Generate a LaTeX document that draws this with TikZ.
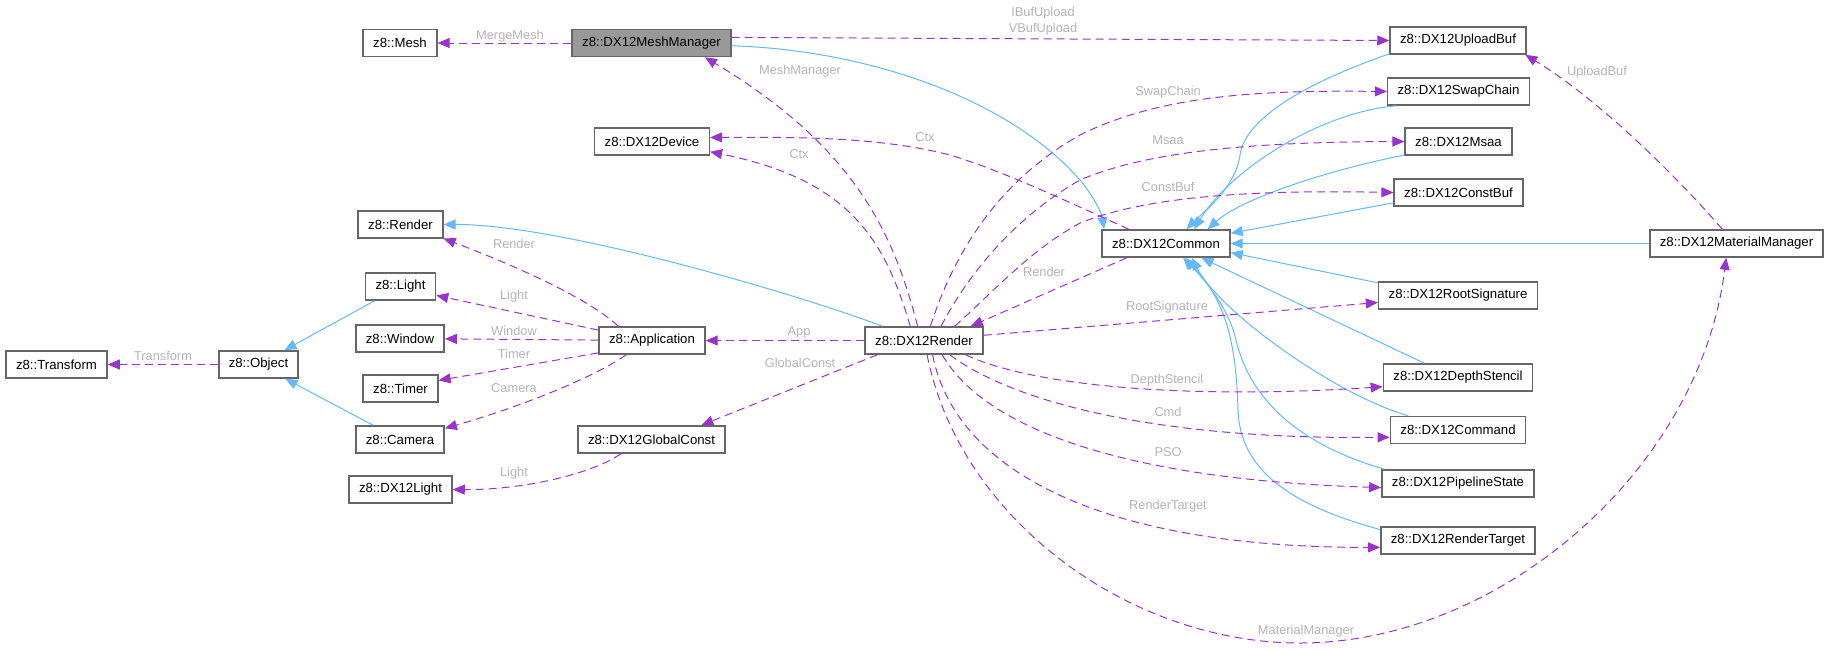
\documentclass[tikz,border=0pt]{standalone}
\usepackage{fontspec}
\setmainfont{Liberation Sans}
\usetikzlibrary{arrows.meta}
\definecolor{dxBorder}{HTML}{666666}
\definecolor{dxFocus}{HTML}{999999}
\definecolor{dxUse}{HTML}{9A32CD}
\definecolor{dxInherit}{HTML}{63B8FF}
\definecolor{dxLabel}{HTML}{B4B4B4}

\begin{document}
\begin{tikzpicture}[x=0.5pt, y=-0.5pt,
  cls/.style={draw=dxBorder, fill=white, line width=0.8pt, align=center,
              minimum height=13.5pt, inner xsep=5pt, inner ysep=0pt,
              font=\fontsize{6.6}{8}\selectfont, text=black},
  focus/.style={cls, fill=dxFocus},
  inh/.style={-{Triangle[length=6pt, width=5pt]}, draw=dxInherit, line width=0.5pt},
  use/.style={-{Triangle[length=6pt, width=5pt]}, draw=dxUse, line width=0.5pt,
              dash pattern=on 4pt off 2.5pt},
  lbl/.style={font=\fontsize{6.4}{8}\selectfont, text=dxLabel, inner sep=0pt, align=center},
]
\useasboundingbox (0,0) rectangle (1829,649);

% --- left column ---
\node[cls] (transform) at (56.5,364.5)  {z8::Transform};
\node[cls] (object)    at (258.5,364.5) {z8::Object};
\node[cls] (mesh)      at (400,43)      {z8::Mesh};
\node[cls] (render)    at (400.5,224.5) {z8::Render};
\node[cls] (light)     at (400.5,286.5) {z8::Light};
\node[cls] (window)    at (400,338.5)   {z8::Window};
\node[cls] (timer)     at (400.5,388.5) {z8::Timer};
\node[cls] (camera)    at (400,439.5)   {z8::Camera};
\node[cls] (dxlight)   at (400.5,489.5) {z8::DX12Light};

% --- middle ---
\node[focus] (meshmgr) at (651.5,43)    {z8::DX12MeshManager};
\node[cls] (device)    at (652,141.5)   {z8::DX12Device};
\node[cls] (app)       at (652,340.5)   {z8::Application};
\node[cls] (gconst)    at (651.5,439.5) {z8::DX12GlobalConst};
\node[cls] (dxrender)  at (924,340.5)   {z8::DX12Render};
\node[cls] (common)    at (1166,243.5)  {z8::DX12Common};

% --- right column ---
\node[cls] (upload)    at (1458,40.5)   {z8::DX12UploadBuf};
\node[cls] (swap)      at (1458.5,91.5) {z8::DX12SwapChain};
\node[cls] (msaa)      at (1458.5,141.5) {z8::DX12Msaa};
\node[cls] (constbuf)  at (1458.5,192.5) {z8::DX12ConstBuf};
\node[cls] (rootsig)   at (1458,295.5)  {z8::DX12RootSignature};
\node[cls] (depth)     at (1458,377.5)  {z8::DX12DepthStencil};
\node[cls] (command)   at (1458,430)    {z8::DX12Command};
\node[cls] (pso)       at (1458,483.5)  {z8::DX12PipelineState};
\node[cls] (target)    at (1458,540.5)  {z8::DX12RenderTarget};
\node[cls] (matmgr)    at (1736.5,243.5) {z8::DX12MaterialManager};

% --- inheritance (solid, towards the base class) ---
\draw[inh] (light) -- (object);
\draw[inh] (camera) -- (object);
\draw[inh] (dxrender.161) .. controls (800,295) and (560,224) .. (render.east);
\draw[inh] (meshmgr.-2) .. controls (870,50) and (1010,100) .. (1080,180)
           .. controls (1095,198) and (1102,215) .. (common.167);
\draw[inh] (upload.191) .. controls (1300,85) and (1245,120) .. (1240,155)
           .. controls (1235,190) and (1200,215) .. (common.35);
\draw[inh] (swap.193) .. controls (1320,112) and (1230,170) .. (common.27);
\draw[inh] (msaa.194) .. controls (1320,172) and (1240,200) .. (common.19);
\draw[inh] (constbuf.189) -- (common.9);
\draw[inh] (matmgr) -- (common);
\draw[inh] (rootsig.171) -- (common.-8);
\draw[inh] (depth.157) -- (common.-22);
\draw[inh] (command.164) .. controls (1335,395) and (1219,311) .. (common.-29);
\draw[inh] (pso.169) .. controls (1300,445) and (1250,400) .. (1236,340)
           .. controls (1228,305) and (1200,275) .. (common.-40);
\draw[inh] (target.172) .. controls (1290,505) and (1240,470) .. (1238,410)
           .. controls (1236,340) and (1225,300) .. (common.-37);

% --- usage (dashed, towards the member's type) ---
\draw[use] (object) -- (transform);
\draw[use] (meshmgr) -- (mesh);
\draw[use] (meshmgr.4) -- (upload.west);
\draw[use] (dxrender.114) .. controls (895,240) and (860,150) .. (meshmgr.-15);
\draw[use] (common.159) .. controls (1060,198) and (1000,170) .. (950,155)
           .. controls (880,137) and (800,137) .. (device.4);
\draw[use] (dxrender.134) .. controls (885,240) and (850,180) .. (device.-10);
\draw[use] (dxrender.66) .. controls (955,250) and (1000,180) .. (1080,135)
           .. controls (1160,95) and (1260,90) .. (swap.west);
\draw[use] (dxrender.40) .. controls (965,280) and (1010,220) .. (1080,180)
           .. controls (1150,150) and (1260,142) .. (msaa.west);
\draw[use] (dxrender.25) .. controls (990,295) and (1030,250) .. (1080,223)
           .. controls (1150,195) and (1260,190) .. (constbuf.west);
\draw[use] (common.200) -- (dxrender.17);
\draw[use] (dxrender.5) -- (rootsig.185);
\draw[use] (dxrender) -- (app);
\draw[use] (dxrender.197) -- (gconst.16);
\draw[use] (dxrender.-19) .. controls (1030,385) and (1180,400) .. (depth.187);
\draw[use] (dxrender.-29) .. controls (1010,400) and (1150,440) .. (command.186);
\draw[use] (dxrender.-38) .. controls (985,430) and (1130,480) .. (pso.183);
\draw[use] (dxrender.-59) .. controls (955,470) and (1100,548) .. (target.185);
\draw[use] (dxrender.-78) .. controls (960,520) and (1130,643) .. (1300,643)
           .. controls (1500,643) and (1700,470) .. (matmgr.-126);
\draw[use] (matmgr.135) .. controls (1680,180) and (1600,100) .. (upload.-12);
\draw[use] (app.157) .. controls (585,295) and (500,260) .. (render.-18);
\draw[use] (app.169) -- (light.-14);
\draw[use] (app) -- (window);
\draw[use] (app.193) -- (timer.12);
\draw[use] (app.209) .. controls (590,380) and (510,410) .. (camera.14);
\draw[use] (gconst.205) .. controls (590,475) and (520,490) .. (dxlight.east);

% --- member labels ---
\node[lbl] (lTransform) at (163,356)  {Transform};
\node[lbl] (lMerge)     at (510,36)   {MergeMesh};
\node[lbl] (lUpload)    at (1043,21)  {IBufUpload\\VBufUpload};
\node[lbl] (lMeshMgr)   at (800,71)   {MeshManager};
\node[lbl] (lCtxA)      at (925,137)  {Ctx};
\node[lbl] (lCtxB)      at (799,154)  {Ctx};
\node[lbl] (lSwap)      at (1168,92)  {SwapChain};
\node[lbl] (lMsaa)      at (1168,140) {Msaa};
\node[lbl] (lConst)     at (1168,187) {ConstBuf};
\node[lbl] (lRenderA)   at (1044,272) {Render};
\node[lbl] (lRoot)      at (1167,307) {RootSignature};
\node[lbl] (lApp)       at (799,332)  {App};
\node[lbl] (lGlobal)    at (800,363)  {GlobalConst};
\node[lbl] (lDepth)     at (1167,380) {DepthStencil};
\node[lbl] (lCmd)       at (1168,412) {Cmd};
\node[lbl] (lPso)       at (1168,452) {PSO};
\node[lbl] (lTarget)    at (1168,506) {RenderTarget};
\node[lbl] (lMat)       at (1306,631) {MaterialManager};
\node[lbl] (lUpBuf)     at (1597,72)  {UploadBuf};
\node[lbl] (lRenderB)   at (514,244)  {Render};
\node[lbl] (lLightA)    at (514,296)  {Light};
\node[lbl] (lWindow)    at (514,331)  {Window};
\node[lbl] (lTimer)     at (514,354)  {Timer};
\node[lbl] (lCamera)    at (514,388)  {Camera};
\node[lbl] (lLightB)    at (514,473)  {Light};
\end{tikzpicture}
\end{document}
